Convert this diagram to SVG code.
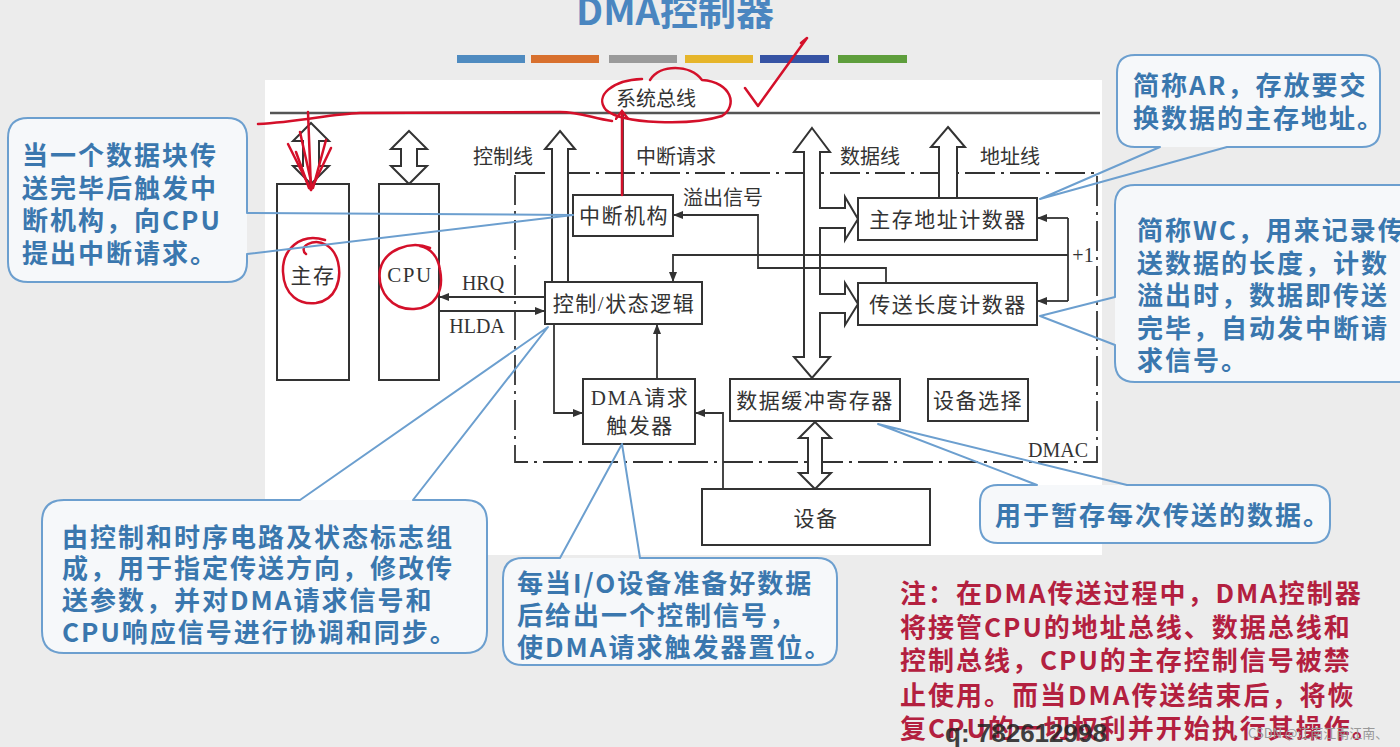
<svg xmlns="http://www.w3.org/2000/svg" width="1400" height="747" viewBox="0 0 1400 747">
<defs>
<marker id="ah" markerWidth="10" markerHeight="8" refX="10" refY="4" orient="auto" markerUnits="userSpaceOnUse"><path d="M0,0 L10,4 L0,8 Z" fill="#333"/></marker>
<marker id="rh" markerWidth="16" markerHeight="14" refX="8" refY="7" orient="auto" markerUnits="userSpaceOnUse"><path d="M0,0 L9,7 L0,14" fill="none" stroke="#d4102a" stroke-width="2.5"/></marker>
<style>
.bx{fill:#fff;stroke:#333;stroke-width:2}
.ha{fill:#fff;stroke:#333;stroke-width:2;stroke-linejoin:miter}
.ln{fill:none;stroke:#333;stroke-width:1.8}
.dd{fill:none;stroke:#333;stroke-width:1.8;stroke-dasharray:30 6 3 6}
.lb{font-family:"Liberation Serif","Noto Sans CJK SC",serif;font-size:21px;fill:#333;letter-spacing:1.5px}
.lt{font-family:"Liberation Serif","Noto Sans CJK SC",serif;font-size:20px;fill:#333}
.cf{fill:#f6f8fa;stroke:none}
.co{fill:none;stroke:#6c9fcf;stroke-width:2;stroke-linejoin:round}
.ct{font-family:"Noto Sans CJK SC",sans-serif;font-size:26px;font-weight:bold;fill:#3a77ae;letter-spacing:2px}
.nt{font-family:"Noto Sans CJK SC",sans-serif;font-size:26px;font-weight:bold;fill:#b3203f;letter-spacing:2px}
.rd{fill:none;stroke:#d4102a;stroke-width:2.5;stroke-linecap:round;stroke-linejoin:round}
</style>
</defs>
<rect width="1400" height="747" fill="#ececec"/>
<rect x="265" y="80" width="837" height="475" fill="#ffffff"/>
<text x="675" y="25" text-anchor="middle" font-family="'Noto Sans CJK SC',sans-serif" font-size="38" font-weight="bold" fill="#4a86c0">DMA控制器</text>
<g id="colorbar">
<rect x="457" y="55" width="68" height="8" fill="#4f8bc0"/>
<rect x="531" y="55" width="68" height="8" fill="#d8702e"/>
<rect x="609" y="55" width="68" height="8" fill="#9a9a9a"/>
<rect x="685" y="55" width="68" height="8" fill="#e6b52a"/>
<rect x="760" y="55" width="69" height="8" fill="#3653a4"/>
<rect x="838" y="55" width="69" height="8" fill="#5e9e3c"/>
</g>
<g id="bus">
<line x1="270" y1="113" x2="1100" y2="113" stroke="#555" stroke-width="2.5"/>
<text x="656" y="106" text-anchor="middle" class="lt" font-size="20">系统总线</text>
</g>
<g id="dmac">
<rect x="515" y="173" width="582" height="289" class="dd"/>
<text x="1058" y="457" text-anchor="middle" class="lt">DMAC</text>
</g>
<g id="connectors">
<path class="ha" d="M311,123 L329,141 L319,141 L319,166 L329,166 L311,184 L293,166 L303,166 L303,141 L293,141 Z"/>
<path class="ha" d="M409,131 L427,149 L417,149 L417,166 L427,166 L409,184 L391,166 L401,166 L401,149 L391,149 Z"/>
<path class="ha" d="M560,131 L575,149 L568,149 L568,282 L552,282 L552,149 L545,149 Z"/>
<path class="ha" d="M948,127 L965,147 L957,147 L957,198 L939,198 L939,147 L931,147 Z"/>
<path class="ha" d="M812,128 L830,152 L820,152 L820,357 L830,357 L812,378 L794,357 L804,357 L804,152 L794,152 Z"/>
<rect x="818" y="209" width="28" height="18" fill="#fff"/>
<path class="ha" d="M820,208 L845,208 L845,197 L858,219 L845,240 L845,228 L820,228" />
<rect x="818" y="295" width="28" height="17" fill="#fff"/>
<path class="ha" d="M820,294 L845,294 L845,283 L858,304 L845,325 L845,313 L820,313"/>
<path class="ha" d="M815,422 L831,438 L822,438 L822,473 L831,473 L815,489 L799,473 L808,473 L808,438 L799,438 Z"/>
<path class="ln" d="M545,297 L439,297" marker-end="url(#ah)"/>
<path class="ln" d="M439,311 L545,311" marker-end="url(#ah)"/>
<path class="ln" d="M886,283 L886,268 L758,268 L758,215 L673,215" marker-end="url(#ah)"/>
<path class="ln" d="M1068,255 L673,255 L673,282" marker-end="url(#ah)"/>
<path class="ln" d="M1068,218 L1068,301"/>
<path class="ln" d="M1068,218 L1037,218" marker-end="url(#ah)"/>
<path class="ln" d="M1068,301 L1037,301" marker-end="url(#ah)"/>
<path class="ln" d="M657,379 L657,324" marker-end="url(#ah)"/>
<path class="ln" d="M554,324 L554,413 L583,413" marker-end="url(#ah)"/>
<path class="ln" d="M723,489 L723,413 L695,413" marker-end="url(#ah)"/>
<path class="ln" d="M623,195 L623,114"/>
<text x="503" y="164" text-anchor="middle" class="lt">控制线</text>
<text x="676" y="164" text-anchor="middle" class="lt">中断请求</text>
<text x="870" y="164" text-anchor="middle" class="lt">数据线</text>
<text x="1010" y="164" text-anchor="middle" class="lt">地址线</text>
<text x="723" y="205" text-anchor="middle" class="lt">溢出信号</text>
<text x="1083" y="262" text-anchor="middle" class="lt">+1</text>
<text x="483" y="290" text-anchor="middle" class="lt">HRQ</text>
<text x="477" y="333" text-anchor="middle" class="lt">HLDA</text>
</g>
<g id="mem"><rect x="277" y="184" width="72" height="196" class="bx"/><text x="313" y="283" text-anchor="middle" class="lb">主存</text></g>
<g id="cpu"><rect x="379" y="184" width="60" height="196" class="bx"/><text x="410" y="282" text-anchor="middle" class="lb" letter-spacing="0">CPU</text></g>
<g id="intr"><rect x="573" y="195" width="100" height="41" class="bx"/><text x="624" y="223" text-anchor="middle" class="lb">中断机构</text></g>
<g id="ctrl"><rect x="545" y="282" width="157" height="42" class="bx"/><text x="624" y="311" text-anchor="middle" class="lb">控制/状态逻辑</text></g>
<g id="dreq"><rect x="583" y="379" width="112" height="65" class="bx"/><text x="640" y="405" text-anchor="middle" class="lb">DMA请求</text><text x="640" y="433" text-anchor="middle" class="lb">触发器</text></g>
<g id="ar"><rect x="858" y="198" width="179" height="42" class="bx"/><text x="948" y="227" text-anchor="middle" class="lb">主存地址计数器</text></g>
<g id="wc"><rect x="858" y="283" width="179" height="42" class="bx"/><text x="948" y="312" text-anchor="middle" class="lb">传送长度计数器</text></g>
<g id="buf"><rect x="730" y="379" width="170" height="42" class="bx"/><text x="815" y="408" text-anchor="middle" class="lb">数据缓冲寄存器</text></g>
<g id="sel"><rect x="928" y="379" width="100" height="42" class="bx"/><text x="978" y="408" text-anchor="middle" class="lb">设备选择</text></g>
<g id="dev"><rect x="702" y="489" width="228" height="56" class="bx"/><text x="816" y="526" text-anchor="middle" class="lb">设备</text></g>
<g id="annot" class="rd">
<path d="M650,80 C660,64 690,64 702,80 C732,82 738,106 722,116 C690,126 622,124 606,110 C594,96 612,80 642,79"/>
<path d="M745,88 L758,106 L807,38 L801,43"/>
<path d="M258,124 C300,122 330,114 360,113 L560,112 C580,112 592,118 612,121"/>
<path d="M622,195 L622,112" marker-end="url(#rh)"/>
<path d="M308,112 L311,190"/>
<path d="M288,144 L311,190 L331,148"/>
<path d="M296,152 L309,188 M326,140 L313,188 M300,132 L312,186"/>
<path d="M325,240 C300,232 282,250 283,272 C284,296 300,305 316,303 C336,300 342,280 338,262 C334,246 320,238 308,244 C302,247 303,252 306,254"/>
<path d="M430,248 C410,240 384,250 380,270 C377,292 392,310 414,309 C436,308 444,290 440,270 C438,256 430,248 420,246"/>
</g>
<g id="callout-intr">
<rect x="8" y="118" width="239" height="164" rx="20" class="cf"/>
<path class="co" d="M28,118 H227 Q247,118 247,138 V213 L573,215 L247,254 V262 Q247,282 227,282 H28 Q8,282 8,262 V138 Q8,118 28,118 Z"/>
<text class="ct" x="22" y="165">当一个数据块传</text>
<text class="ct" x="22" y="198">送完毕后触发中</text>
<text class="ct" x="22" y="230">断机构，向CPU</text>
<text class="ct" x="22" y="263">提出中断请求。</text>
</g>
<g id="callout-ar">
<rect x="1117" y="55" width="263" height="92" rx="18" class="cf"/>
<path class="co" d="M1135,55 H1362 Q1380,55 1380,73 V129 Q1380,147 1362,147 H1227 L1040,199 L1160,147 H1135 Q1117,147 1117,129 V73 Q1117,55 1135,55 Z"/>
<text class="ct" x="1133" y="95">简称AR，存放要交</text>
<text class="ct" x="1133" y="128">换数据的主存地址。</text>
</g>
<g id="callout-wc">
<rect x="1115" y="185" width="300" height="197" rx="20" class="cf"/>
<path class="co" d="M1420,185 H1135 Q1115,185 1115,205 V297 L1040,316 L1115,345 V362 Q1115,382 1135,382 H1420"/>
<text class="ct" x="1137" y="240">简称WC，用来记录传</text>
<text class="ct" x="1137" y="273">送数据的长度，计数</text>
<text class="ct" x="1137" y="305">溢出时，数据即传送</text>
<text class="ct" x="1137" y="338">完毕，自动发中断请</text>
<text class="ct" x="1137" y="370">求信号。</text>
</g>
<g id="callout-ctrl">
<rect x="42" y="500" width="445" height="153" rx="22" class="cf"/>
<path class="co" d="M64,500 H300 L548,327 L413,500 H465 Q487,500 487,522 V631 Q487,653 465,653 H64 Q42,653 42,631 V522 Q42,500 64,500 Z"/>
<text class="ct" x="62" y="547">由控制和时序电路及状态标志组</text>
<text class="ct" x="62" y="578">成，用于指定传送方向，修改传</text>
<text class="ct" x="62" y="610">送参数，并对DMA请求信号和</text>
<text class="ct" x="62" y="642">CPU响应信号进行协调和同步。</text>
</g>
<g id="callout-dreq">
<rect x="503" y="558" width="334" height="107" rx="20" class="cf"/>
<path class="co" d="M523,558 H560 L622,444 L640,558 H817 Q837,558 837,578 V645 Q837,665 817,665 H523 Q503,665 503,645 V578 Q503,558 523,558 Z"/>
<text class="ct" x="517" y="593">每当I/O设备准备好数据</text>
<text class="ct" x="517" y="625">后给出一个控制信号，</text>
<text class="ct" x="517" y="657">使DMA请求触发器置位。</text>
</g>
<g id="callout-buf">
<rect x="980" y="485" width="350" height="58" rx="18" class="cf"/>
<path class="co" d="M998,485 H1037 L878,424 L1127,485 H1312 Q1330,485 1330,503 V525 Q1330,543 1312,543 H998 Q980,543 980,525 V503 Q980,485 998,485 Z"/>
<text class="ct" x="995" y="525">用于暂存每次传送的数据。</text>
</g>
<g id="note">
<text class="nt" x="900" y="603">注：在DMA传送过程中，DMA控制器</text>
<text class="nt" x="900" y="637">将接管CPU的地址总线、数据总线和</text>
<text class="nt" x="900" y="670">控制总线，CPU的主存控制信号被禁</text>
<text class="nt" x="900" y="705">止使用。而当DMA传送结束后，将恢</text>
<text class="nt" x="900" y="738">复CPU的一切权利并开始执行其操作。</text>
<text x="945" y="742" font-family="'Liberation Sans',sans-serif" font-size="26" font-weight="bold" fill="#222" opacity="0.85">q: 782612998</text>
<text x="1248" y="738" font-family="'Noto Sans CJK SC',sans-serif" font-size="13" fill="#999">CSDN @江南江南江南、</text>
</g>
</svg>
